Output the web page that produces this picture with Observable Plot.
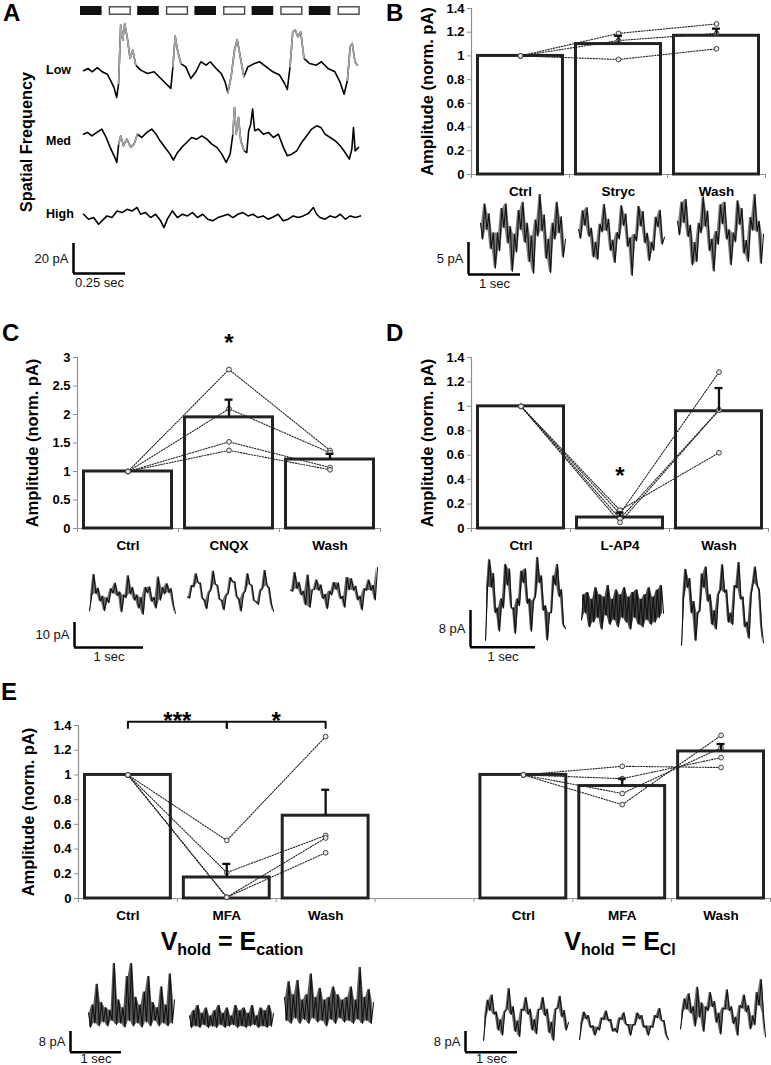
<!DOCTYPE html>
<html><head><meta charset="utf-8">
<script src="https://cdn.jsdelivr.net/npm/d3@7"></script>
<script src="https://cdn.jsdelivr.net/npm/@observablehq/plot@0.6"></script>
<style>
body{margin:0;background:#fff;}
#fig{position:relative;width:771px;height:1065px;overflow:hidden;background:#fff;font-family:"Liberation Sans",Arial,Helvetica,sans-serif;}
#fig svg{overflow:visible;}
</style></head><body><div id="fig"></div>
<script>
// ---------------- DATA ----------------
// Panel A: stimulus sequence and traces ([time s, current pA])
const stimulus = ["dark","light","dark","light","dark","light","dark","light","dark","light"];
const lowTrace = [[0,-0.4],[0.021,1.1],[0.042,-1.1],[0.066,1.6],[0.090,-1.1],[0.114,-2.7],[0.133,-7.8],[0.146,-11.6],[0.159,-18.2],[0.168,-8.9],[0.178,30.0],[0.188,20.0],[0.197,31.1],[0.210,21.1],[0.223,7.8],[0.236,13.3],[0.250,3.3],[0.274,0],[0.306,-2.2],[0.338,-1.1],[0.370,-5.6],[0.394,-8.9],[0.418,-12.2],[0.428,2.2],[0.439,22.7],[0.450,13.3],[0.466,4.4],[0.490,2.2],[0.514,-5.6],[0.538,-1.1],[0.562,5.6],[0.587,3.3],[0.607,5.6],[0.635,1.1],[0.659,-2.2],[0.678,-7.8],[0.691,-15.1],[0.707,-4.4],[0.723,13.3],[0.736,20.4],[0.748,11.1],[0.768,-4.4],[0.787,2.2],[0.819,4.4],[0.843,5.6],[0.875,2.2],[0.907,-1.1],[0.939,-3.3],[0.963,-8.9],[0.976,-12.9],[0.989,2.2],[1.002,25.6],[1.014,26.7],[1.027,22.2],[1.040,25.6],[1.056,7.8],[1.083,4.4],[1.115,3.3],[1.139,5.6],[1.171,1.1],[1.204,-1.1],[1.228,-7.8],[1.248,-16.0],[1.264,-6.7],[1.277,15.6],[1.287,17.8],[1.300,5.6],[1.312,3.3]];
const lowGrey = [[0.165,0.255],[0.425,0.47],[0.69,0.77],[0.985,1.06],[1.262,1.312]];
const medTrace = [[0.002,4.4],[0.021,5.6],[0.042,3.3],[0.066,5.6],[0.090,7.8],[0.111,2.2],[0.130,-4.4],[0.149,-10.0],[0.162,-14.4],[0.171,-2.2],[0.181,3.3],[0.194,-3.3],[0.210,1.1],[0.229,-4.4],[0.245,-2.2],[0.261,4.4],[0.282,2.2],[0.306,5.6],[0.330,7.8],[0.351,4.4],[0.370,0],[0.394,-4.4],[0.418,-8.9],[0.434,-12.9],[0.454,-7.8],[0.474,-4.4],[0.498,-1.1],[0.522,2.2],[0.546,1.1],[0.571,3.3],[0.595,1.1],[0.619,-2.2],[0.643,-4.4],[0.667,-8.9],[0.688,-14.4],[0.707,-8.9],[0.720,4.4],[0.728,22.2],[0.736,4.4],[0.747,15.6],[0.758,0],[0.774,-6.7],[0.787,-7.8],[0.796,6.7],[0.806,11.1],[0.815,21.1],[0.825,6.7],[0.843,7.8],[0.867,4.4],[0.891,5.6],[0.915,2.2],[0.939,4.4],[0.963,-4.4],[0.982,-10.0],[1.003,-8.9],[1.027,-6.7],[1.051,-1.1],[1.075,3.3],[1.099,7.8],[1.123,10.0],[1.143,8.9],[1.163,4.4],[1.188,2.2],[1.212,0],[1.236,-3.3],[1.260,-7.8],[1.280,-12.2],[1.292,-5.6],[1.300,8.9],[1.308,-6.7],[1.324,-4.4]];
const medGrey = [[0.168,0.262],[0.715,0.775]];
const highTrace = [[0.002,1.1],[0.026,-2.2],[0.050,-1.1],[0.074,-5.6],[0.090,-3.3],[0.114,0],[0.138,-1.1],[0.162,3.3],[0.186,2.2],[0.210,4.4],[0.234,3.3],[0.258,5.6],[0.274,1.1],[0.298,2.2],[0.322,-1.1],[0.346,1.1],[0.370,-3.3],[0.386,-7.8],[0.402,-2.2],[0.426,3.3],[0.450,-1.1],[0.474,1.1],[0.498,0],[0.522,2.2],[0.546,-1.1],[0.571,1.1],[0.595,-2.2],[0.619,-3.3],[0.643,-1.1],[0.667,0],[0.691,1.1],[0.715,-1.1],[0.739,1.1],[0.763,2.2],[0.787,0],[0.811,1.1],[0.835,-1.1],[0.859,0],[0.883,-2.2],[0.907,-0.7],[0.931,1.1],[0.955,-3.3],[0.979,-2.2],[1.003,0],[1.027,-1.1],[1.051,0],[1.075,1.6],[1.099,5.6],[1.115,1.1],[1.131,-1.1],[1.155,-2.2],[1.179,0],[1.204,-1.1],[1.228,1.1],[1.252,-2.2],[1.276,0],[1.300,-1.1],[1.324,0]];

// Panel B
const bCats = ["Ctrl","Stryc","Wash"];
const bMeans = [1.0, 1.10, 1.17];
const bErrs = [0, 0.07, 0.06];
const bSubjects = [[1,1.19,1.27],[1,1.13,1.19],[1,0.97,1.06]];
const bTicks = [0,0.2,0.4,0.6,0.8,1,1.2,1.4];
const bCtrlTrace = [1.5,-1.0,4.5,0.5,3.0,-2.5,0,-5.5,0,-2.8,3.8,0.8,4.5,-1.6,1.0,-6.0,-0.2,-3.0,3.5,0.5,4.8,-1.5,1.5,-4.5,-0.5,-6.3,2.0,-0.5,6.0,0.3,2.8,-4.0,-1.0,-6.2,1.5,-1.0,4.8,0,2.5,-3.8,-1.0];
const bStrycTrace = [0.7,-0.7,3.6,1.3,4.1,-0.4,0.9,-3.6,-1.3,-4.0,1.5,0.3,4.6,0.5,2.3,-2.6,-1.0,-4.5,0.2,-0.8,4.4,1.3,3.1,-2.0,-0.6,-6.5,-0.1,-1.1,4.3,1.2,3.5,-1.4,0.1,-4.2,-1.3,-2.6,2.6,1.1,3.7,-1.6,-0.5];
const bWashTrace = [1.8,-0.3,4.8,1.6,5.2,-0.6,1.2,-5.0,-1.5,-4.5,1.5,0.0,5.6,1.0,3.4,-2.8,-1.0,-6.0,0.2,-1.8,4.4,1.4,4.8,-1.0,0.5,-5.0,0.0,-1.4,5.0,1.3,3.8,-3.2,-1.2,-4.5,2.4,0.4,6.0,0.2,1.8,-4.8,-0.2];

// Panel C
const cCats = ["Ctrl","CNQX","Wash"];
const cMeans = [1.0, 1.95, 1.21];
const cErrs = [0, 0.31, 0.10];
const cSubjects = [[1,2.79,1.37],[1,2.10,1.33],[1,1.52,1.07],[1,1.37,1.03]];
const cTicks = [0,0.5,1,1.5,2,2.5,3];
const cStar = 3.25;
const cCtrlTrace = [-6.0,0.0,8.5,0.8,3.0,-2.2,-0.2,-6.0,-0.8,-2.8,2.8,1.0,5.0,0.0,1.5,-6.5,0.3,-0.8,8.0,0.7,3.3,-1.8,0.3,-5.0,-0.7,-7.5,3.3,1.2,3.5,-2.3,-0.7,-5.0,7.5,-1.8,3.3,0.7,4.8,1.2,2.8,-3.3,-7.0];
const cCnqxTrace = [-1.7,-2.3,2.8,2.2,7.5,3.7,3.8,-2.3,-3.2,-6.5,-0.2,1.2,8.5,3.2,2.8,-2.8,-3.2,-7.0,-1.2,-0.3,6.0,4.2,4.3,-1.8,-2.7,-7.5,-0.7,0.7,7.5,3.2,2.8,-3.3,-3.7,-4.8,0.8,1.7,8.8,2.7,1.8,-4.3,-7.5];
const cWashTrace = [1.0,0.5,8.0,1.5,4.0,-1.0,0.5,-5.0,7.0,-6.0,1.0,1.2,5.0,0.8,3.0,-2.5,-0.8,-6.5,0.5,-1.0,4.0,1.2,3.8,-2.5,-1.5,-6.0,6.0,1.0,5.5,0.8,2.5,-3.0,-1.5,-7.0,1.5,0.8,5.0,0.8,2.8,-3.0,10.0];

// Panel D
const dCats = ["Ctrl","L-AP4","Wash"];
const dMeans = [1.0, 0.09, 0.96];
const dErrs = [0, 0.04, 0.19];
const dSubjects = [[1,0.15,0.62],[1,0.12,1.28],[1,0.08,0.97],[1,0.05,0.97]];
const dTicks = [0,0.2,0.4,0.6,0.8,1,1.2,1.4];
const dStar = 0.43;
const dCtrlTrace = [-9.0,2.5,8.5,2.5,5.5,-3.0,-2.0,-7.0,0.0,-2.0,7.5,3.0,6.5,-2.0,-2.0,-7.5,0.0,-1.5,6.0,3.5,6.5,-1.0,0.0,-7.0,-0.5,0.5,9.0,3.5,5.0,-2.5,-1.5,-9.0,-3.0,-3.0,5.0,3.0,7.5,0.5,2.0,-5.5,-6.5];
const dLap4Trace = [-2.5,3.0,-1.0,3.5,-4.0,2.0,-3.0,4.5,-2.0,3.0,-4.5,2.5,-1.5,5.0,-3.5,2.0,-2.5,4.0,-4.0,3.0,-2.0,4.5,-3.0,2.5,-4.5,3.5,-2.0,4.0,-3.5,2.0,-4.0,3.0,-2.5,4.5,-3.5,2.5,-3.0,4.0,-2.0,5.0,-1.0];
const dWashTrace = [-9.0,1.0,7.5,3.5,5.5,-2.0,0.5,-8.0,-2.0,-1.5,6.5,3.5,8.0,0.5,2.0,-4.5,-1.5,-5.5,2.0,3.0,8.5,2.5,3.0,-4.0,-2.0,-4.5,4.0,3.5,9.0,1.0,1.5,-5.0,-4.0,-7.5,2.0,4.5,8.0,4.0,3.0,-4.5,-8.5];

// Panel E
const eCats = ["Ctrl","MFA","Wash","","Ctrl","MFA","Wash"];
const eMeans = [1.0, 0.17, 0.67, null, 1.0, 0.91, 1.19];
const eErrs = [0, 0.11, 0.21, null, 0, 0.06, 0.06];
const eCationSubjects = [[1,0.47,1.31],[1,0.21,0.51],[1,0.01,0.49],[1,0.01,0.37]];
const eClSubjects = [[1,1.07,1.06],[1,0.97,1.14],[1,0.85,1.22],[1,0.76,1.32]];
const eTicks = [0,0.2,0.4,0.6,0.8,1,1.2,1.4];
const eBrackets = [{a:0,b:1,t:"***"},{a:1,b:2,t:"*"}];
const eBracketLevel = 1.43, eBracketFoot = 1.38;
const eCatCtrlTrace = [6,0.5,9,2,17,1,10,2.5,8,1,7,3,25,1.5,11,2,8,0.5,20,3,25,1,12,2,9,0.5,14,2.5,20,1,10,3,8,1,16,2,9,1,21,2,11];
const eCatMfaTrace = [5,0.5,7,1,9,0.5,6,1.5,8,0.5,5,1,7,0.5,9,1.5,6,0.5,8,1,5,1.5,9,0.5,7,1,8,0.5,6,1,9,1.5,5,0.5,8,1,7,0.5,9,1,6];
const eCatWashTrace = [12,3,18,2,13,4,18.5,2,11,3.5,13,2,21,4,12,2.5,15.5,3,11,1,12,3.5,16,2,13,4,11,2.5,12,3,16,2,11,3.5,23.5,2,12,3,15,2,10];
const eClCtrlTrace = [-9.0,0.0,6.5,2.5,8.5,1.0,2.0,-5.0,-1.0,-7.0,2.0,3.0,11.0,1.0,4.0,-5.5,-1.5,-7.5,3.0,2.5,7.5,1.0,3.0,-5.0,-1.0,-6.5,3.0,3.0,7.5,0.5,3.0,-6.0,-2.0,-9.0,3.0,3.5,8.0,0.0,2.5,-5.0,-2.0];
const eClMfaTrace = [-6.5,-0.3,4.1,1.5,2.8,-1.8,-1.2,-4.8,-1.7,-2.8,1.8,1.2,4.5,0.7,1.3,-3.3,-2.2,-3.8,1.8,1.2,3.8,-0.8,-0.7,-4.8,-0.7,-0.8,3.8,1.5,2.8,-1.8,-1.2,-4.8,-1.2,-1.8,2.8,1.9,5.5,0.7,0.8,-4.3,-6.5];
const eClWashTrace = [-6,0.5,5.5,1.5,7.5,0,2.5,-5,10,-1.5,4,-7,2.5,1,8,2.5,4.5,-3.5,0,-8,2,1.5,9,1,2.5,-4,-1.5,-8.5,3,2,7,0.5,3,-6,-1,-4.5,8,3,13,0,-9];

// ---------------- HELPERS ----------------
const fig = document.getElementById("fig");
const FONT = '"Liberation Sans", Arial, Helvetica, sans-serif';
const baseStyle = {background:"transparent", overflow:"visible", fontFamily:FONT, maxWidth:"none"};
function place(node, left, top){
  const d = document.createElement("div");
  d.style.position = "absolute"; d.style.left = left + "px"; d.style.top = top + "px";
  d.appendChild(node); fig.appendChild(d);
}

function tracePlot(points, o){
  const xs = points.map(p => p[0]), vs = points.map(p => p[1]);
  const lo = Math.min(0, d3.min(vs)), hi = Math.max(0, d3.max(vs));
  const pad = 3;
  const marks = [];
  if (o.band) {
    // filled envelope between consecutive samples (dense noisy band)
    const band = d3.pairs(points).map(([a, b]) => ({x:(a[0] + b[0]) / 2, y1:Math.min(a[1], b[1]), y2:Math.max(a[1], b[1])}));
    marks.push(Plot.areaY(band, {x:"x", y1:"y1", y2:"y2", fill:"#222", fillOpacity:o.band}));
  }
  marks.push(Plot.line(points, {x: p => p[0], y: p => p[1], stroke: o.stroke || "#000", strokeWidth: o.sw || 1, strokeOpacity: o.op || 1, strokeLinejoin:"round"}));
  if (o.grey) {
    const seg = [];
    o.grey.forEach((w, k) => points.forEach(p => { if (p[0] >= w[0] && p[0] <= w[1]) seg.push({t:p[0], v:p[1], k}); }));
    marks.push(Plot.line(seg, {x:"t", y:"v", z:"k", stroke:"#a8a8a8", strokeWidth: o.sw || 1}));
  }
  const p = Plot.plot({
    width: o.right - o.left, height: (hi - lo) * o.ppA + 2 * pad,
    marginLeft:0, marginRight:0, marginTop:pad, marginBottom:pad,
    x:{domain: d3.extent(xs), axis:null}, y:{domain:[lo, hi], axis:null},
    style: baseStyle, marks
  });
  place(p, o.left, o.zeroY - hi * o.ppA - pad);
}
function indexTrace(vals, o){ tracePlot(vals.map((v, i) => [i, v]), {sw:1.1, band:0.65, stroke:"#111", ...o}); }

function scaleBar(o){ // o.x,o.y: corner of the L
  const mL = 50, mB = 22, mT = 2, mR = 4;
  const w = o.sec * o.pps, h = o.pA * o.ppA;
  const p = Plot.plot({
    width: mL + w + mR, height: mT + h + mB, marginLeft:mL, marginRight:mR, marginTop:mT, marginBottom:mB,
    x:{domain:[0, o.sec], axis:null}, y:{domain:[0, o.pA], axis:null},
    style: {...baseStyle, fontSize:"13px"},
    marks: [
      Plot.ruleX([0], {y1:0, y2:o.pA, stroke:"#000", strokeWidth:2.5}),
      Plot.ruleY([0], {x1:0, x2:o.sec, stroke:"#000", strokeWidth:2.5}),
      Plot.text([o.pA + " pA"], {x:0, y:o.pA/2, textAnchor:"end", dx:-5, fontSize:13, fill:"#111"}),
      Plot.text([o.sec + " sec"], {x:o.sec/2, y:0, lineAnchor:"top", dy:(o.dy ?? 4), fontSize:13, fill:"#111"})
    ]
  });
  place(p, o.x - mL, o.y - h - mT);
}

function barChart(o){
  const n = o.cats.length;
  const rows = o.cats.map((c, i) => ({i, c, m:o.means[i], e:o.errs[i]})).filter(d => d.m != null);
  const subj = [];
  o.groups.forEach((g, gi) => g.subjects.forEach((arr, s) => arr.forEach((v, k) => subj.push({s: gi + "-" + s, i: g.offset + k, v}))));
  const errRows = rows.filter(d => d.e > 0);
  const marks = [
    Plot.ruleY([0], {stroke:"#8f8f8f", strokeWidth:1.2}),
    Plot.ruleX([0], {y1:0, y2:o.yMax, stroke:"#8f8f8f", strokeWidth:1.2}),
    Plot.axisY({ticks:o.yTicks, tickSize:4, tickPadding:3, stroke:"#8f8f8f", fill:"#000", fontSize:13, fontWeight:"bold", tickFormat:d => String(d), label:null}),
    Plot.axisX({ticks:d3.range(n + 1), tickSize:4, stroke:"#8f8f8f", tickFormat:() => "", label:null}),
    Plot.text(["Amplitude (norm. pA)"], {frameAnchor:"left", textAnchor:"middle", lineAnchor:"middle", rotate:-90, dx:o.titleDx, fontSize:16.5, fontWeight:"bold", fill:"#000"}),
    Plot.text(rows.filter(d => d.c), {x:d => d.i + 0.5, y:0, text:"c", dy:17, fontSize:13.5, fontWeight:"bold", fill:"#000"}),
    Plot.rect(rows, {x1:"i", x2:d => d.i + 1, y1:0, y2:"m", insetLeft:6.5, insetRight:6.5, fill:"#fff", stroke:"#222", strokeWidth:3}),
    Plot.line(subj, {x:d => d.i + 0.5, y:"v", z:"s", stroke:"#222", strokeWidth:1.1, strokeDasharray:"1.3,1.5"}),
    Plot.dot(subj, {x:d => d.i + 0.5, y:"v", r:2.4, stroke:"#444", fill:"#e6e6e6", strokeWidth:1}),
    Plot.ruleX(errRows, {x:d => d.i + 0.5, y1:"m", y2:d => d.m + d.e, stroke:"#111", strokeWidth:2.3}),
    Plot.ruleY(errRows, {y:d => d.m + d.e, x1:d => d.i + 0.5, x2:d => d.i + 0.5, insetLeft:-4, insetRight:-4, stroke:"#111", strokeWidth:2.3})
  ];
  if (o.stars) marks.push(Plot.text(o.stars, {x:d => d.i + 0.5, y:"y", text:"t", fontSize:24, fontWeight:"bold", fill:"#000"}));
  if (o.brackets) {
    const pts = [];
    o.brackets.forEach((b, k) => [[b.a, o.foot], [b.a, o.level], [b.b, o.level], [b.b, o.foot]].forEach(q => pts.push({k, x:q[0] + 0.5, y:q[1]})));
    marks.push(Plot.line(pts, {x:"x", y:"y", z:"k", stroke:"#111", strokeWidth:2}));
    marks.push(Plot.text(o.brackets, {x:d => (d.a + d.b) / 2 + 0.5, y:o.level, text:"t", fontSize:24, fontWeight:"bold", fill:"#000"}));
  }
  const p = Plot.plot({
    width:o.width, height:o.height, marginLeft:o.ml, marginRight:o.mr, marginTop:o.mt, marginBottom:o.mb,
    x:{domain:[0, n], axis:null}, y:{domain:[0, o.yMax], axis:null},
    style:baseStyle, marks
  });
  place(p, o.left, o.top);
}

// ---------------- PANEL A ----------------
place(Plot.plot({
  width:286, height:13, marginLeft:0, marginRight:0, marginTop:2, marginBottom:2,
  x:{domain:[0, stimulus.length], axis:null}, y:{domain:[0,1], axis:null}, style:baseStyle,
  marks:[
    Plot.rect(stimulus.map((s, i) => ({s, i})).filter(d => d.s === "dark"), {x1:"i", x2:d => d.i + 1, y1:0, y2:1, insetRight:7, fill:"#111"}),
    Plot.rect(stimulus.map((s, i) => ({s, i})).filter(d => d.s === "light"), {x1:"i", x2:d => d.i + 1, y1:0, y2:1, insetRight:7, insetLeft:0.8, insetTop:0.8, insetBottom:0.8, fill:"#fff", stroke:"#444", strokeWidth:1.4})
  ]
}), 80, 4);
tracePlot(lowTrace, {left:83, right:357, zeroY:70, ppA:1.5, sw:1.6, grey:lowGrey});
tracePlot(medTrace, {left:83, right:358, zeroY:140, ppA:1.5, sw:1.6, grey:medGrey});
tracePlot(highTrace, {left:83, right:360, zeroY:215, ppA:1.5, sw:1.6});
scaleBar({x:73, y:273, pA:20, sec:0.25, ppA:1.5, pps:208});

// ---------------- PANEL B ----------------
barChart({left:385, top:0, width:386, height:200, ml:86, mr:6, mt:8, mb:26, yMax:1.4, yTicks:bTicks,
  cats:bCats, means:bMeans, errs:bErrs, groups:[{offset:0, subjects:bSubjects}], titleDx:-44});
indexTrace(bCtrlTrace, {left:480, right:565, zeroY:232, ppA:6.4, band:0.6});
indexTrace(bStrycTrace, {left:578, right:664, zeroY:233, ppA:6.4, band:0.6});
indexTrace(bWashTrace, {left:677, right:763, zeroY:232, ppA:6.4, band:0.6});
scaleBar({x:468, y:274, pA:5, sec:1, ppA:6.4, pps:52});

// ---------------- PANEL C ----------------
barChart({left:0, top:300, width:385, height:260, ml:77, mr:5, mt:57, mb:32, yMax:3, yTicks:cTicks,
  cats:cCats, means:cMeans, errs:cErrs, groups:[{offset:0, subjects:cSubjects}], titleDx:-45,
  stars:[{i:1, y:cStar, t:"*"}]});
indexTrace(cCtrlTrace, {left:89, right:175, zeroY:595, ppA:2.5});
indexTrace(cCnqxTrace, {left:187, right:273, zeroY:592, ppA:2.5});
indexTrace(cWashTrace, {left:290, right:377, zeroY:592, ppA:2.5});
scaleBar({x:74, y:647, pA:10, sec:1, ppA:2.5, pps:69});

// ---------------- PANEL D ----------------
barChart({left:385, top:300, width:386, height:260, ml:86, mr:3, mt:57, mb:32, yMax:1.4, yTicks:dTicks,
  cats:dCats, means:dMeans, errs:dErrs, groups:[{offset:0, subjects:dSubjects}], titleDx:-44,
  stars:[{i:1, y:dStar, t:"*"}]});
indexTrace(dCtrlTrace, {left:485, right:565, zeroY:598, ppA:4.6, band:0.75});
indexTrace(dLap4Trace, {left:581, right:663, zeroY:608, ppA:4.6, band:0.85});
indexTrace(dWashTrace, {left:681, right:763, zeroY:603, ppA:4.6, band:0.75});
scaleBar({x:470, y:647, pA:8, sec:1, ppA:4.6, pps:65});

// ---------------- PANEL E ----------------
barChart({left:0, top:700, width:771, height:230, ml:78, mr:1, mt:25, mb:32, yMax:1.4, yTicks:eTicks,
  cats:eCats, means:eMeans, errs:eErrs, titleDx:-50,
  groups:[{offset:0, subjects:eCationSubjects}, {offset:4, subjects:eClSubjects}],
  brackets:eBrackets, level:eBracketLevel, foot:eBracketFoot});
indexTrace(eCatCtrlTrace, {left:88, right:174, zeroY:1028, ppA:2.6, band:0.75});
indexTrace(eCatMfaTrace, {left:189, right:273, zeroY:1028, ppA:2.6, band:0.8});
indexTrace(eCatWashTrace, {left:284, right:373, zeroY:1028, ppA:2.6, band:0.75});
indexTrace(eClCtrlTrace, {left:483, right:568, zeroY:1017, ppA:2.6});
indexTrace(eClMfaTrace, {left:579, right:668, zeroY:1022, ppA:2.6});
indexTrace(eClWashTrace, {left:680, right:765, zeroY:1013, ppA:2.6});
scaleBar({x:70, y:1052, pA:8, sec:1, ppA:2.6, pps:51, dy:1.5});
scaleBar({x:465, y:1052, pA:8, sec:1, ppA:2.6, pps:52, dy:1.5});

// ---------------- TEXT OVERLAY ----------------
const ov = d3.select(fig).append("svg").attr("width", 771).attr("height", 1065)
  .style("position","absolute").style("left","0px").style("top","0px").style("pointer-events","none")
  .style("font-family", FONT).style("font-weight","bold");
[["A",3,21],["B",386,21],["C",2,341],["D",386,341],["E",1,700]].forEach(([t,x,y]) =>
  ov.append("text").attr("x",x).attr("y",y).attr("font-size",24).text(t));
[["Low",46,73.5],["Med",46,145],["High",46,218]].forEach(([t,x,y]) =>
  ov.append("text").attr("x",x).attr("y",y).attr("font-size",12.5).text(t));
ov.append("text").attr("transform","translate(32,142) rotate(-90)").attr("text-anchor","middle").attr("font-size",16.3).text("Spatial Frequency");
function vhold(x, sub){
  const t = ov.append("text").attr("x", x).attr("y", 950).attr("text-anchor","middle").attr("font-size",25);
  t.append("tspan").text("V");
  t.append("tspan").attr("font-size",16).attr("dy",5).text("hold");
  t.append("tspan").attr("dy",-5).text(" = E");
  t.append("tspan").attr("font-size",16).attr("dy",5).text(sub);
}
vhold(232, "cation");
vhold(620, "Cl");
</script></body></html>
